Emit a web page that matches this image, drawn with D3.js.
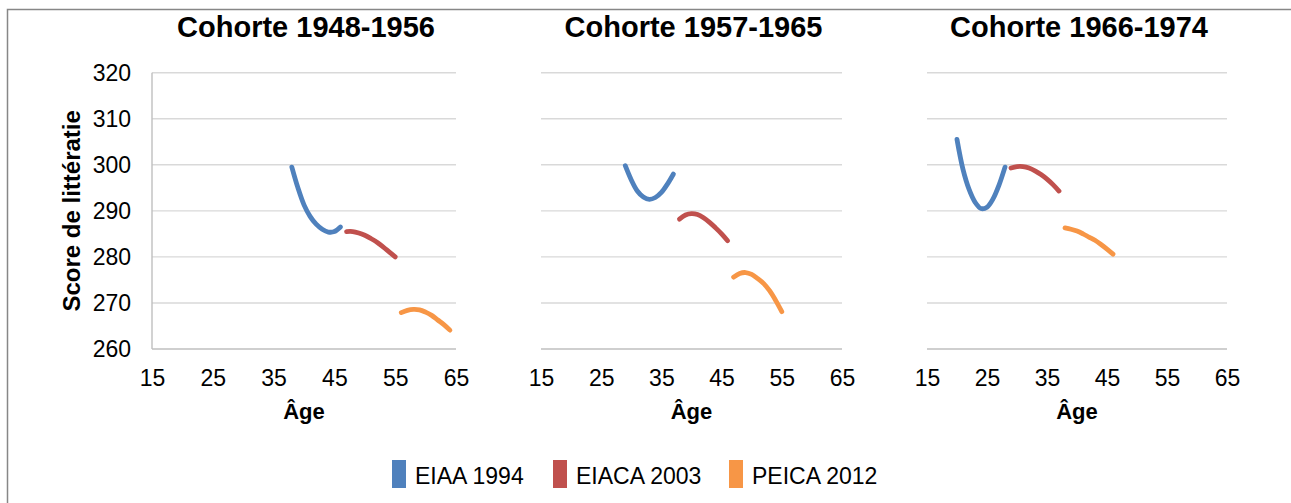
<!DOCTYPE html>
<html>
<head>
<meta charset="utf-8">
<script src="https://cdn.jsdelivr.net/npm/d3@7"></script>
<style>
  html, body { margin: 0; padding: 0; background: #fff; }
  svg { display: block; font-family: "Liberation Sans", Arial, Helvetica, sans-serif; }
</style>
</head>
<body>
<svg id="chart" width="1291" height="503"></svg>
<script>
// ---------- data ----------
const cohorts = ["Cohorte 1948-1956", "Cohorte 1957-1965", "Cohorte 1966-1974"];
const seriesNames = ["EIAA 1994", "EIACA 2003", "PEICA 2012"];
const seriesColors = ["#4f81bd", "#c0504d", "#f79646"];
const xTicks = [15, 25, 35, 45, 55, 65];
const yTicks = [260, 270, 280, 290, 300, 310, 320];

// Cohorte 1948-1956
const c1Ages1994 = [38, 39, 40, 41, 42, 43, 44, 45, 46];
const c1Eiaa1994 = [299.5, 295.0, 291.3, 288.8, 287.1, 286.0, 285.4, 285.5, 286.5];
const c1Ages2003 = [47, 48, 49, 50, 51, 52, 53, 54, 55];
const c1Eiaca2003 = [285.5, 285.5, 285.2, 284.7, 284.0, 283.2, 282.2, 281.1, 280.0];
const c1Ages2012 = [56, 57, 58, 59, 60, 61, 62, 63, 64];
const c1Peica2012 = [267.9, 268.4, 268.6, 268.5, 268.0, 267.3, 266.3, 265.3, 264.1];

// Cohorte 1957-1965
const c2Ages1994 = [29, 30, 31, 32, 33, 34, 35, 36, 37];
const c2Eiaa1994 = [299.8, 296.7, 294.3, 293.0, 292.5, 292.9, 294.0, 295.8, 298.0];
const c2Ages2003 = [38, 39, 40, 41, 42, 43, 44, 45, 46];
const c2Eiaca2003 = [288.2, 289.1, 289.4, 289.2, 288.5, 287.5, 286.3, 285.0, 283.5];
const c2Ages2012 = [47, 48, 49, 50, 51, 52, 53, 54, 55];
const c2Peica2012 = [275.6, 276.4, 276.6, 276.2, 275.3, 274.2, 272.6, 270.5, 268.1];

// Cohorte 1966-1974
const c3Ages1994 = [20, 21, 22, 23, 24, 25, 26, 27, 28];
const c3Eiaa1994 = [305.5, 299.0, 294.7, 291.9, 290.5, 290.8, 292.6, 295.6, 299.5];
const c3Ages2003 = [29, 30, 31, 32, 33, 34, 35, 36, 37];
const c3Eiaca2003 = [299.3, 299.6, 299.6, 299.3, 298.7, 297.9, 296.9, 295.7, 294.3];
const c3Ages2012 = [38, 39, 40, 41, 42, 43, 44, 45, 46];
const c3Peica2012 = [286.3, 286.0, 285.6, 285.0, 284.3, 283.6, 282.7, 281.7, 280.6];

const panelData = [
  [[c1Ages1994, c1Eiaa1994], [c1Ages2003, c1Eiaca2003], [c1Ages2012, c1Peica2012]],
  [[c2Ages1994, c2Eiaa1994], [c2Ages2003, c2Eiaca2003], [c2Ages2012, c2Peica2012]],
  [[c3Ages1994, c3Eiaa1994], [c3Ages2003, c3Eiaca2003], [c3Ages2012, c3Peica2012]]
];

// ---------- layout ----------
const panelX = [[152, 456], [541, 842], [927, 1227]];
const plotTop = 72.7, plotBottom = 349;

const svg = d3.select("#chart");

// outer frame (only left & top visible in the picture)
svg.append("rect")
  .attr("x", 7.5).attr("y", 9.5)
  .attr("width", 1300).attr("height", 520)
  .attr("fill", "none").attr("stroke", "#878787").attr("stroke-width", 1.5);

panelData.forEach((series, pi) => {
  const x = d3.scaleLinear().domain([15, 65]).range(panelX[pi]);
  const y = d3.scaleLinear().domain([260, 320]).range([plotBottom, plotTop]);
  const g = svg.append("g");

  // grid lines
  g.selectAll("line.grid").data(yTicks).join("line")
    .attr("class", "grid")
    .attr("x1", x(15)).attr("x2", x(65))
    .attr("y1", d => y(d)).attr("y2", d => y(d))
    .attr("stroke", d => d === 260 ? "#bfbfbf" : "#d9d9d9")
    .attr("stroke-width", 1.4);

  // x axis labels
  const xAxis = d3.axisBottom(x).tickValues(xTicks).tickSize(0).tickPadding(0).tickFormat(d3.format("d"));
  const xa = g.append("g").attr("transform", `translate(0,${plotBottom + 37})`).call(xAxis);
  xa.select(".domain").remove();
  xa.selectAll("text").attr("dy", 0).attr("font-size", 23).attr("fill", "#000")
    .attr("font-family", "Liberation Sans, Arial, sans-serif");

  // x title
  g.append("text")
    .attr("x", (panelX[pi][0] + panelX[pi][1]) / 2).attr("y", 419)
    .attr("text-anchor", "middle").attr("font-size", 22).attr("font-weight", "bold")
    .text("Âge");

  // panel title
  g.append("text")
    .attr("x", (panelX[pi][0] + panelX[pi][1]) / 2 + 2).attr("y", 37)
    .attr("text-anchor", "middle").attr("font-size", 29).attr("font-weight", "bold")
    .text(cohorts[pi]);

  if (pi === 0) {
    // vertical axis line
    g.append("line")
      .attr("x1", x(15)).attr("x2", x(15))
      .attr("y1", plotTop).attr("y2", plotBottom)
      .attr("stroke", "#bfbfbf").attr("stroke-width", 1.4);
    const yAxis = d3.axisLeft(y).tickValues(yTicks).tickSize(0).tickPadding(0).tickFormat(d3.format("d"));
    const ya = g.append("g").attr("transform", `translate(${x(15) - 21},0)`).call(yAxis);
    ya.select(".domain").remove();
    ya.selectAll("text").attr("font-size", 23).attr("fill", "#000")
      .attr("font-family", "Liberation Sans, Arial, sans-serif");
    g.append("text")
      .attr("transform", `translate(80,${(plotTop + plotBottom) / 2}) rotate(-90)`)
      .attr("text-anchor", "middle").attr("font-size", 24).attr("font-weight", "bold")
      .text("Score de littératie");
  }

  // series lines
  const line = d3.line()
    .x(d => x(d[0])).y(d => y(d[1]))
    .curve(d3.curveCatmullRom.alpha(0.5));
  series.forEach(([ages, vals], si) => {
    const pts = ages.map((a, i) => [a, vals[i]]);
    g.append("path")
      .attr("d", line(pts))
      .attr("fill", "none")
      .attr("stroke", seriesColors[si])
      .attr("stroke-width", 4.8)
      .attr("stroke-linecap", "round")
      .attr("stroke-linejoin", "round");
  });
});

// legend
const legendX = [392, 553, 729];
const lg = svg.append("g");
seriesNames.forEach((name, i) => {
  lg.append("rect")
    .attr("x", legendX[i]).attr("y", 460)
    .attr("width", 14).attr("height", 28)
    .attr("fill", seriesColors[i]);
  lg.append("text")
    .attr("x", legendX[i] + 23).attr("y", 484)
    .attr("font-size", 23).attr("fill", "#000")
    .text(name);
});
</script>
</body>
</html>
